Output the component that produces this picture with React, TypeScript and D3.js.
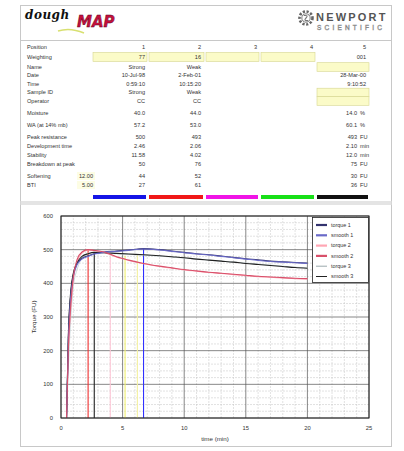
import React from "react";
import * as d3 from "d3";

// table contents
const rowLabels = [
  "Position", "Weighting", "Name", "Date", "Time", "Sample ID", "Operator",
  "Moisture", "WA (at 14% mb)", "Peak resistance", "Development time",
  "Stability", "Breakdown at peak", "Softening", "BTI",
];
const sample1 = ["1", "77", "Strong", "10-Jul-98", "0:59:10", "Strong", "CC", "40.0", "57.2", "500", "2.46", "11.58", "50", "44", "27"];
const sample2 = ["2", "16", "Weak", "2-Feb-01", "10:15:20", "Weak", "CC", "44.0", "53.0", "493", "2.06", "4.02", "76", "52", "61"];
const sample3 = ["3", "", "", "", "", "", "", "", "", "", "", "", "", "", ""];
const sample4 = ["4", "", "", "", "", "", "", "", "", "", "", "", "", "", ""];
const sample5 = ["5", "001", "", "28-Mar-00", "9:10:52", "", "", "14.0", "60.1", "493", "2.10", "12.0", "75", "30", "36"];
const units5 = ["", "", "", "", "", "", "", "%", "%", "FU", "min", "min", "FU", "FU", "FU"];
const softParams = ["12.00", "5.00"];
const barColors = ["#1414e6", "#f01818", "#f014e6", "#18e018", "#111111"];

// curves
const times = [0.45, 0.6, 0.8, 1.0, 1.3, 1.7, 2.2, 2.7, 3.5, 4.5, 5.5, 6.7, 8, 9, 10, 11, 12, 13, 14, 15, 16, 17, 18, 19, 20];
const torque1 = [0, 240, 370, 425, 458, 474, 482, 488, 493, 496, 499, 503, 500, 496, 492, 488, 485, 481, 477, 473, 470, 466, 464, 462, 460];
const smooth1 = [0, 230, 365, 420, 455, 472, 480, 487, 492, 495, 498, 502, 499, 495, 491, 487, 484, 480, 476, 472, 468, 465, 463, 461, 459];
const torque2 = [0, 200, 330, 410, 462, 490, 499, 497, 492, 478, 468, 458, 450, 445, 440, 436, 432, 429, 426, 423, 420, 418, 416, 414, 413];
const smooth2 = [0, 210, 340, 420, 470, 493, 500, 498, 493, 479, 469, 459, 451, 446, 441, 437, 433, 430, 427, 424, 421, 419, 417, 415, 414];
const torque3 = [0, 150, 300, 390, 440, 475, 489, 491, 490, 488, 486, 484, 481, 478, 475, 472, 469, 466, 463, 460, 457, 454, 451, 448, 446];
const smooth3 = [0, 250, 380, 430, 460, 480, 488, 492, 491, 489, 487, 485, 482, 479, 476, 472, 469, 466, 463, 459, 456, 453, 450, 447, 445];
const seriesNames = ["torque 1", "smooth 1", "torque 2", "smooth 2", "torque 3", "smooth 3"];
const seriesValues = [torque1, smooth1, torque2, smooth2, torque3, smooth3];
const seriesColors = ["#33336e", "#6a6ac8", "#ffa6b4", "#d8506a", "#c4d4d8", "#222222"];

// peak / time markers
const markerTimes = [2.2, 2.7, 4.0, 5.2, 6.2, 6.7];
const markerTops = [500, 492, 478, 482, 484, 502];
const markerColors = ["#ee3030", "#222222", "#ffc8d8", "#f0f070", "#f4f0a0", "#3030ff"];

const xTicks = [0, 5, 10, 15, 20, 25];
const yTicks = [0, 100, 200, 300, 400, 500, 600];

const W = 404;
const H = 451;
const FONT = "Liberation Sans, Arial, sans-serif";

function Gear({ cx, cy }: { cx: number; cy: number }) {
  return (
    <g>
      <circle cx={cx} cy={cy} r={6.5} fill="none" stroke="#666" strokeWidth={2.6} strokeDasharray="2.2 1.6" />
      <circle cx={cx} cy={cy} r={4.2} fill="#fff" stroke="#777" strokeWidth={1} />
      <path d={`M${cx - 2},${cy - 2.5} Q${cx + 3},${cy - 3} ${cx},${cy} T${cx + 2},${cy + 2.6}`} fill="none" stroke="#777" strokeWidth={1.1} />
    </g>
  );
}

export default function App() {
  // table layout
  const rowGap = [0, 10, 10, 8.5, 8.5, 8.5, 8.5, 12, 12, 12, 9, 9, 9, 12, 9];
  const rowY = d3.cumsum(rowGap).map((g) => 47 + g);
  const colRight = [145, 201, 257, 313, 366];
  const colBox: [number, number][] = [[93, 147], [149, 204], [206, 259], [261, 315], [317, 369]];
  const cols = [sample1, sample2, sample3, sample4, sample5];

  // chart
  const x = d3.scaleLinear().domain([0, 25]).range([61, 369]);
  const y = d3.scaleLinear().domain([0, 600]).range([418, 216]);
  const line = d3.line<number>()
    .x((_, i) => x(times[i]))
    .y((v) => y(v))
    .curve(d3.curveMonotoneX);
  const minorX = d3.range(0, 26).filter((t) => t % 5 !== 0);
  const minorY = d3.range(0, 601, 20).filter((v) => v % 100 !== 0);

  return (
    <div style={{ position: "absolute", left: 0, top: 0 }}>
      <svg width={W} height={H} style={{ display: "block", fontFamily: FONT }}>
        <rect x={0} y={0} width={W} height={H} fill="#fff" />
        {/* card */}
        <rect x={20.5} y={5.5} width={371} height={441} fill="#fff" stroke="#c8c8c8" />
        <line x1={20} x2={392} y1={40.5} y2={40.5} stroke="#c8c8c8" />
        <rect x={20.5} y={201} width={371} height={4} fill="#e4e4e4" />

        {/* header */}
        <text x={25} y={19} fontFamily="DejaVu Serif, serif" fontStyle="italic" fontWeight="bold" fontSize={12} fill="#111" letterSpacing={0.5}>dough</text>
        <text x={77} y={27} fontFamily="DejaVu Sans, sans-serif" fontStyle="italic" fontWeight="bold" fontSize={15} fill="#c4103c" stroke="#5a0020" strokeWidth={0.4}>MAP</text>
        <path d="M58,31 Q70,27 84,33" fill="none" stroke="#d8e070" strokeWidth={1.5} />
        <Gear cx={306} cy={18} />
        <text x={316} y={21} fontSize={11} fontWeight="bold" fill="#555" letterSpacing={2.2}>NEWPORT</text>
        <text x={317} y={30} fontSize={6.5} fill="#fff" stroke="#888" strokeWidth={0.5} letterSpacing={3.2}>SCIENTIFIC</text>

        {/* yellow input boxes */}
        {colBox.slice(0, 4).map(([a, b], i) => (
          <rect key={`wb${i}`} x={a} y={rowY[1] - 4.5} width={b - a} height={9} fill="#fbfbc8" stroke="#d6d690" strokeWidth={0.6} />
        ))}
        {[2, 5, 6].map((r) => (
          <rect key={`c5${r}`} x={colBox[4][0]} y={rowY[r] - 4.3} width={colBox[4][1] - colBox[4][0]} height={8.6} fill="#fbfbc8" stroke="#d6d690" strokeWidth={0.6} />
        ))}
        {[13, 14].map((r) => (
          <rect key={`sp${r}`} x={77} y={rowY[r] - 4} width={18} height={8} fill="#fdfde4" />
        ))}

        {/* table text */}
        <g fontSize={5.6} fill="#333">
          {rowLabels.map((lab, r) => (
            <text key={`l${r}`} x={27} y={rowY[r]} dy="0.35em">{lab}</text>
          ))}
          {softParams.map((p, i) => (
            <text key={`p${i}`} x={93} y={rowY[13 + i]} dy="0.35em" textAnchor="end">{p}</text>
          ))}
          {cols.map((col, c) =>
            col.map((v, r) =>
              v ? (
                <text key={`v${c}-${r}`} x={colRight[c] - (c === 4 && units5[r] ? 9 : 0)} y={rowY[r]} dy="0.35em" textAnchor="end">{v}</text>
              ) : null
            )
          )}
          {units5.map((u, r) =>
            u ? (
              <text key={`u${r}`} x={colRight[4] - 6} y={rowY[r]} dy="0.35em">{u}</text>
            ) : null
          )}
        </g>

        {/* colour bars */}
        {barColors.map((c, i) => (
          <rect key={`bar${i}`} x={colBox[i][0]} y={195} width={colBox[i][1] - colBox[i][0] - 1} height={4} fill={c} />
        ))}

        {/* chart grid */}
        <g>
          {minorX.map((t) => (
            <line key={`mx${t}`} x1={x(t)} x2={x(t)} y1={y(0)} y2={y(600)} stroke="#c4c4c4" strokeWidth={0.5} strokeDasharray="2 1" />
          ))}
          {minorY.map((v) => (
            <line key={`my${v}`} x1={x(0)} x2={x(25)} y1={y(v)} y2={y(v)} stroke="#c4c4c4" strokeWidth={0.5} strokeDasharray="2 1" />
          ))}
          {xTicks.map((t) => (
            <line key={`gx${t}`} x1={x(t)} x2={x(t)} y1={y(0)} y2={y(600)} stroke="#555" strokeWidth={0.7} />
          ))}
          {yTicks.map((v) => (
            <line key={`gy${v}`} x1={x(0)} x2={x(25)} y1={y(v)} y2={y(v)} stroke="#555" strokeWidth={0.7} />
          ))}
        </g>

        {/* markers */}
        {markerTimes.map((t, i) => (
          <line key={`mk${i}`} x1={x(t)} x2={x(t)} y1={y(0)} y2={y(markerTops[i])} stroke={markerColors[i]} strokeWidth={1.1} />
        ))}

        {/* curves */}
        {[4, 0, 2, 5, 1, 3].map((i) => (
          <path key={`s${i}`} d={line(seriesValues[i]) || ""} fill="none" stroke={seriesColors[i]} strokeWidth={i === 4 ? 0.9 : 1.1} />
        ))}

        <rect x={x(0)} y={y(600)} width={x(25) - x(0)} height={y(0) - y(600)} fill="none" stroke="#222" strokeWidth={1} />

        {/* axes labels */}
        <g fontSize={5.8} fill="#333">
          {yTicks.map((v) => (
            <text key={`yt${v}`} x={53} y={y(v)} dy="0.35em" textAnchor="end">{v}</text>
          ))}
          {xTicks.map((t) => (
            <text key={`xt${t}`} x={x(t)} y={428} dy="0.35em" textAnchor="middle">{t}</text>
          ))}
          <text x={x(12.5)} y={439} dy="0.35em" textAnchor="middle" fontSize={6.2}>time (min)</text>
          <text transform={`translate(34,${y(300)}) rotate(-90)`} textAnchor="middle" dy="0.35em" fontSize={6.2}>Torque (FU)</text>
        </g>

        {/* legend */}
        <rect x={312.5} y={217.5} width={56} height={65} fill="#fff" stroke="#222" strokeWidth={0.8} />
        {seriesNames.map((n, i) => (
          <g key={`lg${i}`} transform={`translate(316,${225 + i * 10.3})`}>
            <line x1={0} x2={11} y1={0} y2={0} stroke={i === 4 ? "#9aa8ac" : seriesColors[i]} strokeWidth={i >= 4 ? 1 : 2.2} />
            <text x={15} y={0} dy="0.35em" fontSize={5.4} fill="#333">{n}</text>
          </g>
        ))}
      </svg>
    </div>
  );
}
